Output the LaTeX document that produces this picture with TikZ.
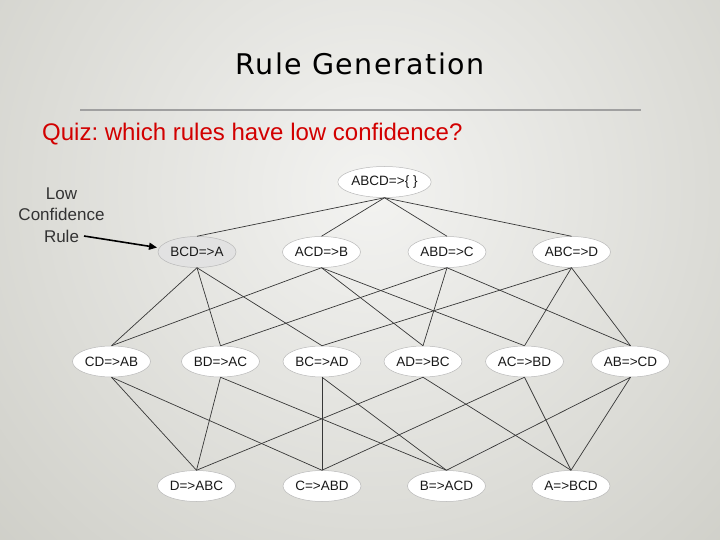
\documentclass[tikz,border=0pt]{standalone}
\usepackage{fontspec}
\setmainfont{Liberation Sans}
\newfontfamily\titlefont[LetterSpace=5]{DejaVu Sans}
\usetikzlibrary{shapes.geometric,arrows.meta}
\definecolor{bgin}{RGB}{243,243,241}
\definecolor{bgout}{RGB}{182,182,172}
\definecolor{quizred}{RGB}{210,0,0}
\definecolor{nodeline}{RGB}{185,185,185}
\definecolor{edgecol}{RGB}{55,55,55}
\definecolor{lowfill}{RGB}{226,226,226}
\definecolor{rulegray}{RGB}{160,160,160}
\frenchspacing
\tikzset{
  rulenode/.style={ellipse, draw=nodeline, fill=white, line width=0.5pt,
    minimum width=78pt, minimum height=31pt, inner sep=0pt,
    font=\fontsize{13.5}{16}\selectfont, text=black!90},
  lowconf/.style={rulenode, fill=lowfill},
  link/.style={draw=edgecol, line width=0.7pt},
  pointer/.style={draw=black, line width=1.6pt, -{Triangle[length=8pt,width=7pt]}}
}
\begin{document}
\begin{tikzpicture}[x=1pt,y=-1pt]
\useasboundingbox (0,0) rectangle (720,540);
\begin{scope}
  \clip (0,0) rectangle (720,540);
  \shade[inner color=bgin, outer color=bgout] (370,190) circle (880);
\end{scope}
% title
\node[anchor=base, inner sep=0pt, font=\titlefont\fontsize{28.5}{32}\selectfont] (title) at (360,75) {Rule Generation};
\coordinate (hl) at (80,110);
\coordinate (hr) at (641,110);
\draw[rulegray, line width=1.6pt] (hl) -- (hr);
\node[anchor=base west, inner sep=0pt, text=quizred, font=\fontsize{24}{28}\selectfont] (quiz) at (42,141) {Quiz: which rules have low confidence?};
% label
\node[align=center, inner sep=0pt, text=black!80, font=\fontsize{17}{21.5}\selectfont, anchor=base] (lbl) at (61.5,242) {Low\\Confidence\\Rule};
% nodes
\node[rulenode, minimum width=93pt] (top) at (384.5,182) {ABCD=>\{\;\}};
\node[lowconf] (bcda) at (197,252) {BCD=>A};
\node[rulenode] (acdb) at (321.5,252) {ACD=>B};
\node[rulenode] (abdc) at (447,252) {ABD=>C};
\node[rulenode] (abcd) at (571.5,252) {ABC=>D};
\node[rulenode] (cdab) at (111.5,361.5) {CD=>AB};
\node[rulenode] (bdac) at (220.5,361.5) {BD=>AC};
\node[rulenode] (bcad) at (322,361.5) {BC=>AD};
\node[rulenode] (adbc) at (423,361.5) {AD=>BC};
\node[rulenode] (acbd) at (524.5,361.5) {AC=>BD};
\node[rulenode] (abcd2) at (630.5,361.5) {AB=>CD};
\node[rulenode] (dabc) at (196.5,486) {D=>ABC};
\node[rulenode] (cabd) at (322,486) {C=>ABD};
\node[rulenode] (bacd) at (446.5,486) {B=>ACD};
\node[rulenode] (abcd3) at (571,486) {A=>BCD};
% edges
\foreach \t in {bcda,acdb,abdc,abcd} \draw[link] (top.south) -- (\t.north);
\foreach \a/\b in {bcda/cdab,bcda/bdac,bcda/bcad,
                   acdb/cdab,acdb/adbc,acdb/acbd,
                   abdc/bdac,abdc/adbc,abdc/abcd2,
                   abcd/bcad,abcd/acbd,abcd/abcd2,
                   cdab/dabc,cdab/cabd,
                   bdac/dabc,bdac/bacd,
                   bcad/cabd,bcad/bacd,
                   adbc/dabc,adbc/abcd3,
                   acbd/cabd,acbd/abcd3,
                   abcd2/bacd,abcd2/abcd3}
  \draw[link] (\a.south) -- (\b.north);
% pointer
\coordinate (ptrstart) at (84,236);
\coordinate (ptrend) at (157,247.5);
\draw[pointer] (ptrstart) -- (ptrend);
\end{tikzpicture}
\end{document}
